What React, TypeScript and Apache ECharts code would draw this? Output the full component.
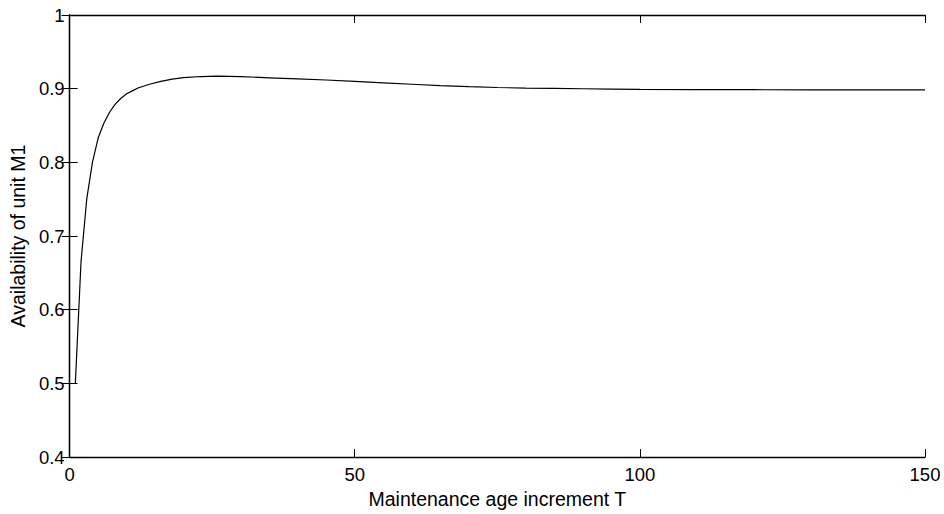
import React, { useEffect, useRef } from "react";
import * as echarts from "echarts";

const incrementT = [1, 2, 3, 4, 5, 6, 7, 8, 9, 10, 11, 12, 14, 16, 18, 20, 23, 26, 30, 35, 40, 45, 50, 55, 60, 65, 70, 75, 80, 85, 90, 95, 100, 110, 120, 130, 140, 150];
const availabilityM1 = [0.5, 0.665, 0.75, 0.8, 0.833, 0.853, 0.868, 0.879, 0.887, 0.893, 0.897, 0.901, 0.906, 0.91, 0.913, 0.915, 0.9165, 0.917, 0.9163, 0.9148, 0.9133, 0.9118, 0.9098, 0.9078, 0.906, 0.9042, 0.9027, 0.9016, 0.9008, 0.9003, 0.8999, 0.8995, 0.899, 0.8987, 0.8986, 0.8985, 0.8985, 0.8985];
const xTicks = [0, 50, 100, 150];
const yTicks = [0.4, 0.5, 0.6, 0.7, 0.8, 0.9, 1];

const FONT = "Liberation Sans, Arial, sans-serif";

export default function App() {
  const ref = useRef<HTMLDivElement>(null);
  useEffect(() => {
    if (!ref.current) return;
    const chart = echarts.init(ref.current, undefined, { renderer: "svg" });
    const axisLine = { show: true, lineStyle: { color: "#000", width: 1.3 } };
    const tick = { show: true, inside: true, length: 8, lineStyle: { color: "#000", width: 1 } };
    const label = { color: "#000", fontSize: 18.5, fontFamily: FONT };
    const xBase = { type: "value" as const, min: xTicks[0], max: xTicks[xTicks.length - 1], interval: 50, splitLine: { show: false }, axisLine, axisTick: tick };
    const yBase = { type: "value" as const, min: yTicks[0], max: yTicks[yTicks.length - 1], interval: 0.1, splitLine: { show: false }, axisLine, axisTick: tick };
    chart.setOption({
      animation: false,
      backgroundColor: "#fff",
      grid: { left: 68, right: 19, top: 15, bottom: 47, containLabel: false },
      xAxis: [
        {
          ...xBase,
          position: "bottom",
          name: "Maintenance age increment T",
          nameLocation: "middle",
          nameGap: 24,
          nameTextStyle: { color: "#000", fontSize: 19.5, fontFamily: FONT },
          axisLabel: { ...label, margin: 8 },
        },
        { ...xBase, position: "top", axisLabel: { show: false } },
      ],
      yAxis: [
        {
          ...yBase,
          position: "left",
          name: "Availability of unit M1",
          nameLocation: "middle",
          nameGap: 37,
          nameTextStyle: { color: "#000", fontSize: 19.5, fontFamily: FONT },
          axisLabel: { ...label, margin: 5, formatter: (v: number) => String(Math.round(v * 10) / 10) },
        },
        { ...yBase, position: "right", axisLabel: { show: false } },
      ],
      series: [
        {
          type: "line",
          xAxisIndex: 0,
          yAxisIndex: 0,
          data: incrementT.map((t, i) => [t, availabilityM1[i]]),
          showSymbol: false,
          symbol: "none",
          smooth: false,
          lineStyle: { color: "#000", width: 1.2 },
        },
      ],
    });
    return () => chart.dispose();
  }, []);
  return <div ref={ref} style={{ position: "fixed", left: 0, top: 0, width: 944, height: 514 }} />;
}
